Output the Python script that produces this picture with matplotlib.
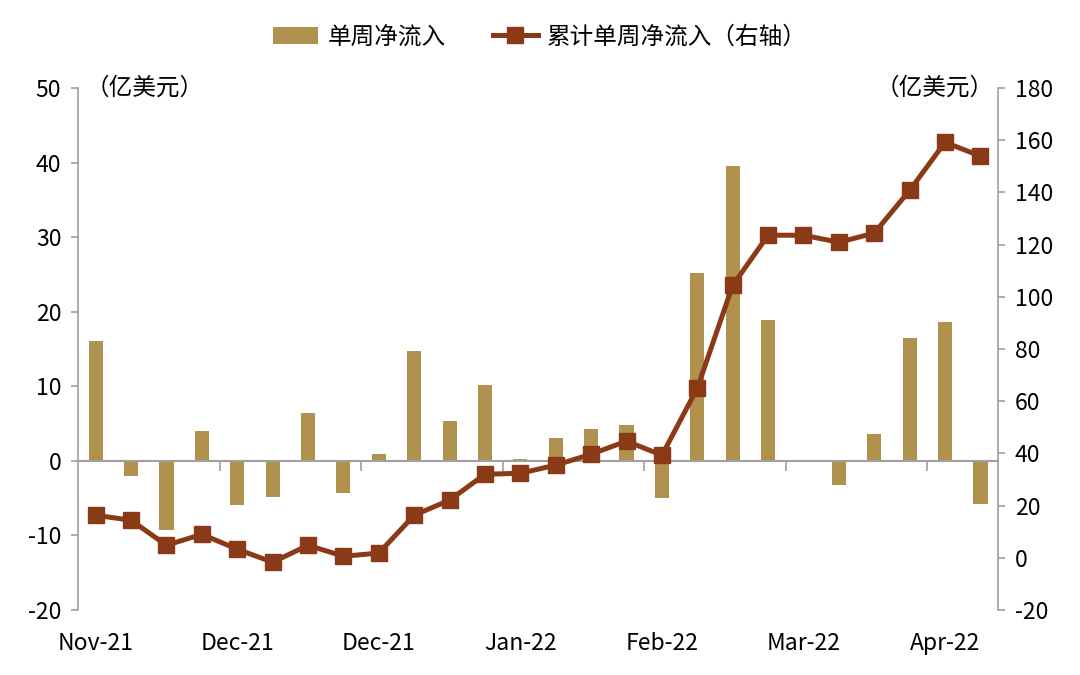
import matplotlib.pyplot as plt
import numpy as np

plt.rcParams['font.family'] = ['Noto Sans CJK SC', 'DejaVu Sans']
plt.rcParams['axes.unicode_minus'] = False

# 单周净流入 (亿美元), 26 weeks
weekly = [16.1, -2.0, -9.3, 4.0, -5.9, -4.8, 6.4, -4.3, 0.9, 14.8, 5.4, 10.2, 0.3,
          3.0, 4.3, 4.8, -5.0, 25.2, 39.6, 18.9, 0.0, -3.2, 3.6, 16.5, 18.6, -5.8]
# 累计单周净流入 (右轴)
cumulative = [16.3, 14.4, 4.8, 9.0, 3.3, -1.7, 4.8, 0.6, 1.8, 16.3, 22.1, 32.0, 32.4,
              35.5, 39.7, 44.7, 39.3, 65.0, 104.4, 123.6, 123.6, 120.9, 124.4, 140.8, 159.2, 153.9]
month_labels = ['Nov-21', 'Dec-21', 'Dec-21', 'Jan-22', 'Feb-22', 'Mar-22', 'Apr-22']

bar_color = '#B0924E'
line_color = '#8A3A16'
axis_color = '#A0A0A0'

x = np.arange(len(weekly))

fig = plt.figure(figsize=(10.8, 6.75), dpi=100)
ax = fig.add_axes([0.0722, 0.0963, 0.852, 0.7733])
ax2 = ax.twinx()

bars = ax.bar(x, weekly, width=0.4, color=bar_color, zorder=2, label='单周净流入')
ax.set_ylim(-20, 50)
ax.set_xlim(-0.5, len(weekly) - 0.5)
ax.set_yticks(range(-20, 51, 10))

line, = ax2.plot(x, cumulative, color=line_color, lw=3.6, marker='s', markersize=11,
                 zorder=3, label='累计单周净流入（右轴）')
ax2.set_ylim(-20, 180)
ax2.set_yticks(range(-20, 181, 20))

for a in (ax, ax2):
    a.spines['top'].set_visible(False)
    a.tick_params(axis='y', labelsize=16.5, length=5, color=axis_color, width=1.2, pad=7)

ax.spines['right'].set_visible(False)
ax.spines['left'].set_color(axis_color)
ax.spines['left'].set_linewidth(1.2)
ax2.spines['left'].set_visible(False)
ax2.spines['bottom'].set_visible(False)
ax2.spines['right'].set_color(axis_color)
ax2.spines['right'].set_linewidth(1.2)

ax.spines['bottom'].set_position(('data', 0))
ax.spines['bottom'].set_color(axis_color)
ax.spines['bottom'].set_linewidth(1.5)
ax.set_xticks(np.arange(3.5, len(weekly) - 1, 4))
ax.set_xticklabels([])
ax.tick_params(axis='x', length=7, color=axis_color, width=1.2, direction='out')

for i, lab in zip(range(0, len(weekly), 4), month_labels):
    ax.text(i, -0.042, lab, transform=ax.get_xaxis_transform(), ha='center', va='top', fontsize=16.5)

ax.text(0.008, 1.0, '（亿美元）', transform=ax.transAxes, ha='left', va='center', fontsize=17)
ax2.text(0.995, 1.0, '（亿美元）', transform=ax2.transAxes, ha='right', va='center', fontsize=17)

fig.legend(handles=[bars, line], loc='center', bbox_to_anchor=(0.5, 0.945), ncol=2,
           frameon=False, fontsize=17, handlelength=1.9, handletextpad=0.4, columnspacing=2.0)

fig.savefig('out.png', dpi=100)
